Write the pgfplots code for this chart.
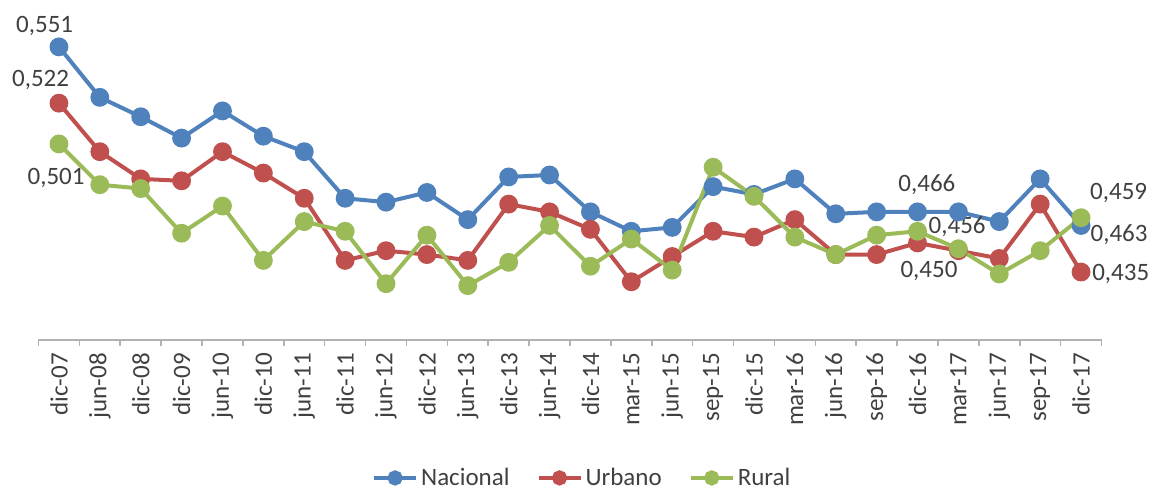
\documentclass[border=0pt]{standalone}
\usepackage{fontspec}
\setmainfont{Carlito}
\usepackage{pgfplots}
\usepackage{pgfplotstable}
\pgfplotsset{compat=1.18}
\definecolor{cNac}{HTML}{4F81BD}
\definecolor{cUrb}{HTML}{C0504D}
\definecolor{cRur}{HTML}{9BBB59}
\definecolor{txt}{HTML}{404040}
\pgfplotstableread{
i Nac Urb Rur
0 0.551 0.522 0.501
1 0.525 0.497 0.480
2 0.515 0.483 0.478
3 0.504 0.482 0.455
4 0.518 0.497 0.469
5 0.505 0.486 0.441
6 0.497 0.473 0.461
7 0.473 0.441 0.456
8 0.471 0.446 0.429
9 0.476 0.444 0.454
10 0.462 0.441 0.428
11 0.484 0.470 0.440
12 0.485 0.466 0.459
13 0.466 0.457 0.438
14 0.456 0.430 0.452
15 0.458 0.443 0.436
16 0.479 0.456 0.489
17 0.475 0.453 0.474
18 0.483 0.462 0.453
19 0.465 0.444 0.444
20 0.466 0.444 0.454
21 0.466 0.450 0.456
22 0.466 0.446 0.447
23 0.461 0.442 0.434
24 0.483 0.470 0.446
25 0.459 0.435 0.463
}\datatable
\begin{document}
\begin{tikzpicture}
\path[use as bounding box] (0,0) rectangle (575.5pt,245pt);
\begin{axis}[
  at={(19.25pt,75pt)}, anchor=south west,
  scale only axis, width=531.5pt, height=165pt,
  xmin=-0.5, xmax=25.5, ymin=0.40, ymax=0.57,
  clip=false,
  axis x line=bottom, axis y line=none,
  x axis line style={-, draw=black!30, line width=0.8pt},
  xtick={0,...,25},
  xticklabels={dic-07,jun-08,dic-08,dic-09,jun-10,dic-10,jun-11,dic-11,jun-12,dic-12,jun-13,dic-13,jun-14,dic-14,mar-15,jun-15,sep-15,dic-15,mar-16,jun-16,sep-16,dic-16,mar-17,jun-17,sep-17,dic-17},
  major tick length=0pt,
  minor xtick={-0.5,0.5,...,25.5},
  minor tick length=3pt,
  tick align=outside,
  minor tick style={draw=black!30, line width=0.8pt},
  xticklabel style={rotate=90, anchor=east, font=\fontsize{12.5}{14}\selectfont, text=txt, xshift=-3pt},
  legend columns=3,
  legend style={at={(0.512,-0.418)}, anchor=center, draw=none, fill=none,
    font=\fontsize{12.5}{14}\selectfont, text=txt,
    /tikz/every even column/.append style={column sep=12pt},
    nodes={inner sep=1.5pt}},
  legend image code/.code={\draw[#1, mark size=2.8pt, mark repeat=2, mark phase=2] plot coordinates {(0pt,0pt)(10.5pt,0pt)(21pt,0pt)};},
  every axis plot/.append style={line width=2pt, mark=*, mark size=3.7pt},
]
\addplot[cNac, mark options={fill=cNac, draw=cNac}] table[x=i, y=Nac] {\datatable};
\addlegendentry{Nacional}
\addplot[cUrb, mark options={fill=cUrb, draw=cUrb}] table[x=i, y=Urb] {\datatable};
\addlegendentry{Urbano}
\addplot[cRur, mark options={fill=cRur, draw=cRur}] table[x=i, y=Rur] {\datatable};
\addlegendentry{Rural}
\begin{scope}[every node/.style={font=\fontsize{12.5}{14}\selectfont, text=txt, inner sep=0pt}]
\node at (axis cs:-0.35,0.5618) {0,551};
\node at (axis cs:-0.45,0.534) {0,522};
\node at (axis cs:-0.07,0.4835) {0,501};
\node at (axis cs:21.23,0.4801) {0,466};
\node at (axis cs:21.97,0.4582) {0,456};
\node at (axis cs:21.28,0.4353) {0,450};
\node at (axis cs:25.92,0.4757) {0,459};
\node at (axis cs:25.93,0.4541) {0,463};
\node at (axis cs:25.97,0.4342) {0,435};
\end{scope}
\end{axis}
\end{tikzpicture}
\end{document}
